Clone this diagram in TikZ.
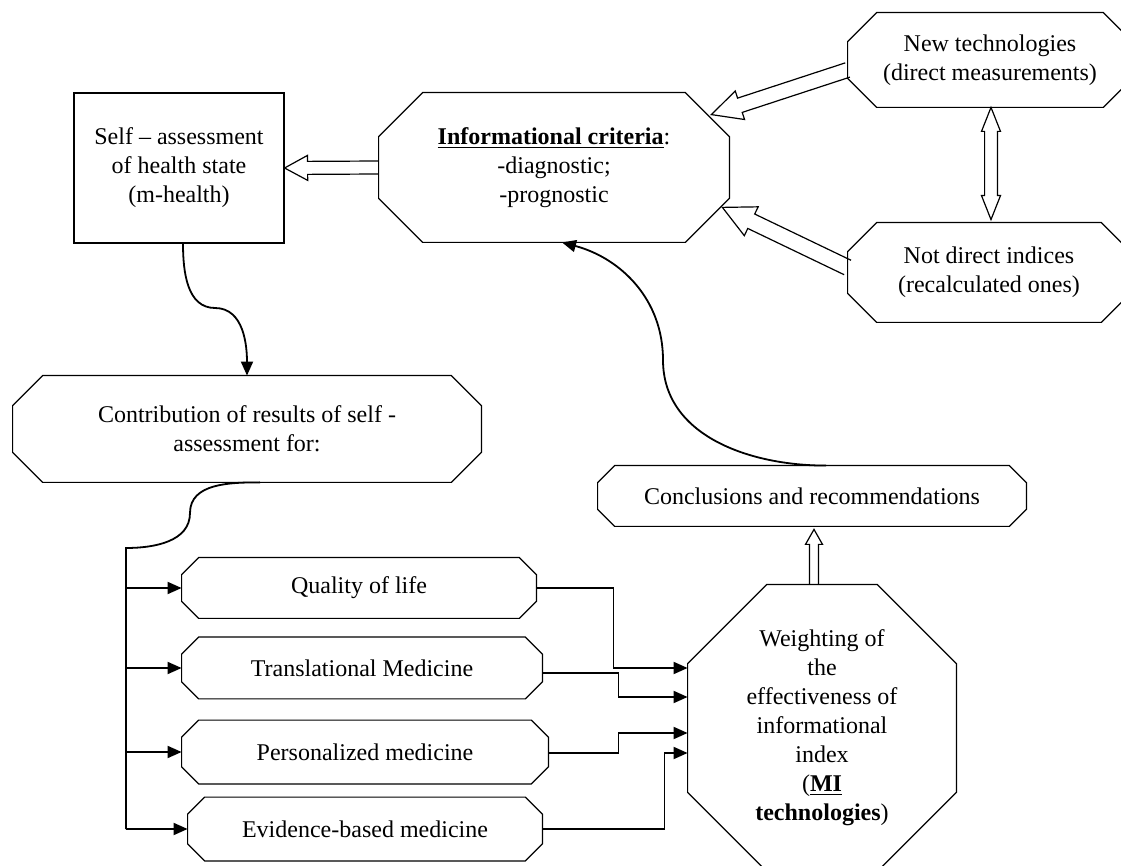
\documentclass[tikz,border=0pt]{standalone}
\usepackage{fontspec}
\setmainfont{Liberation Serif}
\usetikzlibrary{positioning,calc,arrows.meta}

% octagon drawn round a named node: node, chamfer
\newcommand{\octframe}[2]{%
  \draw [frame] ([xshift=#2]#1.north west) -- ([xshift=-#2]#1.north east)
    -- ([yshift=-#2]#1.north east) -- ([yshift=#2]#1.south east)
    -- ([xshift=-#2]#1.south east) -- ([xshift=#2]#1.south west)
    -- ([yshift=#2]#1.south west) -- ([yshift=-#2]#1.north west) -- cycle;}

% hollow block arrow: from, to, shaft half width, head half width, head length
\newcommand{\blockarrow}[5]{%
  \coordinate (ba-h) at ($(#2)!#5!(#1)$);
  \draw [frame] ($(#1)!#3!90:(#2)$) -- ($(ba-h)!#3!-90:(#1)$)
    -- ($(ba-h)!#4!-90:(#1)$) -- (#2) -- ($(ba-h)!#4!90:(#1)$)
    -- ($(ba-h)!#3!90:(#1)$) -- ($(#1)!#3!-90:(#2)$);}

% hollow block arrow with two heads
\newcommand{\twoblockarrow}[5]{%
  \coordinate (ba-h1) at ($(#1)!#5!(#2)$);
  \coordinate (ba-h2) at ($(#2)!#5!(#1)$);
  \draw [frame] (#1) -- ($(ba-h1)!#4!90:(#2)$) -- ($(ba-h1)!#3!90:(#2)$)
    -- ($(ba-h2)!#3!-90:(#1)$) -- ($(ba-h2)!#4!-90:(#1)$) -- (#2)
    -- ($(ba-h2)!#4!90:(#1)$) -- ($(ba-h2)!#3!90:(#1)$)
    -- ($(ba-h1)!#3!-90:(#2)$) -- ($(ba-h1)!#4!-90:(#2)$) -- cycle;}

\begin{document}
\begin{tikzpicture}[x=0.5pt, y=-0.5pt, >={Triangle[length=7pt,width=6pt]},
    font=\fontsize{12}{14.5}\selectfont,
    frame/.style={line width=0.6pt},
    conn/.style={line width=0.9pt},
    box/.style={inner sep=0pt, align=center}]
    \useasboundingbox (0,0) rectangle (1121,866);

    % Upper part
    \node [box, draw, frame, minimum width=105pt, minimum height=75pt] (self) at (179,168) {Self -- assessment\\ of health state\\ (m-health)};
    \node [box, minimum width=175pt, minimum height=74.5pt] (info) at (554,167.5) {\underline{\textbf{Informational criteria}}:\\ -diagnostic;\\ -prognostic};
    \node [box, minimum width=142pt, minimum height=47pt] (newtech) at (990,60) {New technologies\\ (direct measurements)};
    \node [box, minimum width=141pt, minimum height=49.5pt] (notdirect) at (989,272.5) {Not direct indices\\ (recalculated ones)};
    \node [box, minimum width=234pt, minimum height=53pt] (contrib) at (247,429) {Contribution of results of self -\\ assessment for:};
    \node [box, minimum width=214pt, minimum height=30pt] (concl) at (812,496) {Conclusions and recommendations};

    % Lower part
    \node [box, minimum width=177pt, minimum height=30pt] (qual) at (359,588) {Quality of life};
    \node [box, minimum width=180pt, minimum height=30.5pt] (transl) at (362,668) {Translational Medicine};
    \node [box, minimum width=183pt, minimum height=31.5pt] (pers) at (365,752) {Personalized medicine};
    \node [box, minimum width=177pt, minimum height=31.5pt] (evid) at (365,829) {Evidence-based medicine};
    \node [box, minimum width=134pt, minimum height=143pt] (weight) at (822,728) {Weighting of\\ the\\ effectiveness of\\ informational\\ index\\ (\underline{\textbf{MI}}\\ \textbf{technologies})};

    % Octagons
    \octframe{info}{22pt}
    \octframe{newtech}{14.5pt}
    \octframe{notdirect}{14.5pt}
    \octframe{contrib}{15pt}
    \octframe{concl}{8.5pt}
    \foreach \n in {qual,transl,pers,evid} {\octframe{\n}{8.5pt}}
    \octframe{weight}{39.5pt}

    % Block arrows
    \blockarrow{info.west}{self.east}{3.25pt}{6.25pt}{11.5pt}
    \coordinate (nt-tail) at ([yshift=-5pt]newtech.west);
    \coordinate (nt-tip) at ([xshift=-9pt,yshift=-11pt]info.north east);
    \blockarrow{nt-tail}{nt-tip}{3.75pt}{7.5pt}{15pt}
    \coordinate (nd-tail) at ([yshift=2.5pt]notdirect.west);
    \coordinate (nd-tip) at ([xshift=-3.5pt,yshift=17.5pt]info.south east);
    \blockarrow{nd-tail}{nd-tip}{4pt}{8pt}{16pt}
    \coordinate (v-top) at ([xshift=0.5pt]newtech.south);
    \coordinate (v-bot) at ([yshift=1.5pt]v-top |- notdirect.north);
    \twoblockarrow{v-top}{v-bot}{3.2pt}{4.75pt}{12pt}
    \coordinate (wc-tail) at ([xshift=-4pt]weight.north);
    \coordinate (wc-tip) at ([yshift=-1.5pt]wc-tail |- concl.south);
    \blockarrow{wc-tail}{wc-tip}{2.25pt}{4.25pt}{7.5pt}

    % Curved connectors
    \coordinate (selfbend) at (215,308);
    \draw [conn,->] ([xshift=2pt]self.south) to[out=-90,in=180] (selfbend) to[out=0,in=90] (contrib.north);
    \coordinate (conclbend) at (663,360);
    \draw [conn,->] ([xshift=7pt]concl.north) to[out=180,in=-90] (conclbend) to[out=90,in=-15] ([xshift=4pt]info.south);
    \coordinate (contbend) at (190,513);
    \coordinate (trunk) at (126,548);
    \draw [conn] ([xshift=6.5pt]contrib.south) to[out=180,in=90] (contbend) to[out=-90,in=0] (trunk) -- (trunk |- evid.west);

    % Branches
    \foreach \n in {qual,transl,pers,evid}
        \draw [conn,->] (trunk |- \n.west) -- (\n.west);
    \draw [conn,->] (qual.east) -- ++(38.5pt,0) |- ([yshift=30pt]weight.west);
    \draw [conn,->] ([yshift=-2.5pt]transl.east) -- ++(38pt,0) |- ([yshift=15.5pt]weight.west);
    \draw [conn,->] ([yshift=-0.5pt]pers.east) -- ++(35pt,0) |- ([yshift=-2.5pt]weight.west);
    \draw [conn,->] (evid.east) -- ++(61pt,0) |- ([yshift=-12.5pt]weight.west);
\end{tikzpicture}
\end{document}
